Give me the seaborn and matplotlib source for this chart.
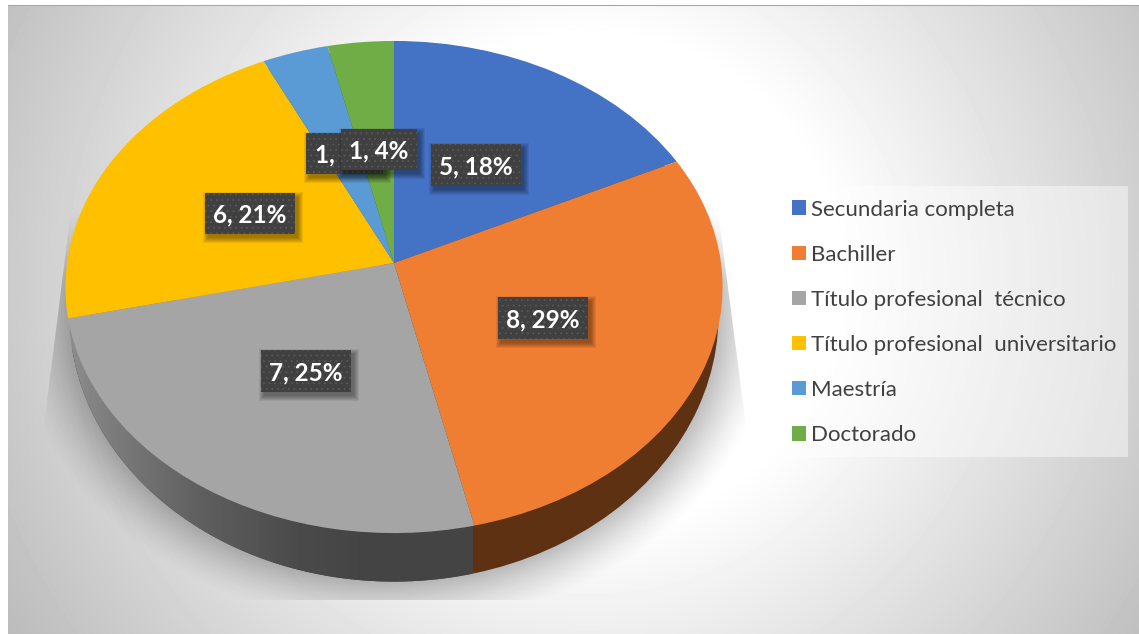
import matplotlib
matplotlib.use("Agg")
import matplotlib.pyplot as plt
import numpy as np
import seaborn as sns
from matplotlib.patches import Circle, Patch, Rectangle
from matplotlib.transforms import Transform

categories = ["Secundaria completa", "Bachiller", "Título profesional  técnico",
              "Título profesional  universitario", "Maestría", "Doctorado"]
values = [5, 8, 7, 6, 1, 1]
face_colors = ["#4472C4", "#F07E32", "#A5A5A5", "#FFC000", "#5B9BD5", "#70AD47"]
wall_colors = ["#264478", "#5E3112", "#444444", "#8F8F8F", "#255E91", "#43682B"]

# label boxes in pixels: left, top, right, bottom (draw order, Maestría under Doctorado)
label_boxes = [(431, 144, 521, 186), (498, 297, 588, 339), (261, 350, 351, 392),
               (205, 193, 295, 234), (306, 133, 383, 174), (341, 129, 417, 170)]

W, H = 1139, 634
TILT = 0.0976


class TiltTransform(Transform):
    # unit circle to the tilted disc, so the centre sits above the middle of the ellipse
    input_dims = output_dims = 2

    def __init__(self, cx, cy, rx, ry):
        super().__init__()
        self.cx, self.cy, self.rx, self.ry = cx, cy, rx, ry

    def transform_non_affine(self, values):
        v = np.asarray(values, dtype=float)
        w = 1 + TILT * v[:, 1]
        return np.column_stack((self.cx + self.rx * v[:, 0] / w, self.cy - self.ry * v[:, 1] / w))


def background(ax):
    yy, xx = np.mgrid[5:H, 8:W]
    d = np.hypot((xx - 590) / 590, (yy - 280) / 580)
    grey = 1 - 0.36 * np.clip(d - 0.42, 0, None)
    ax.imshow(grey, extent=(8, W, H, 5), cmap="gray", vmin=0, vmax=1, aspect="auto", zorder=0)
    ax.plot([8, W], [4.5, 4.5], color="#a8a8a8", lw=0.8, zorder=1)


def pie_shadow(ax):
    yy, xx = np.mgrid[0:600, 0:W]
    e = np.hypot((xx - 394) / 325, (yy - 314) / 267)
    a = 0.25 * np.clip(1 - (e - 1) * 300 / 52, 0, 1) ** 1.4
    left = 70 - (yy - 210) * 28 / 223
    right = 718 + (yy - 210) * 29 / 223
    a = a * np.clip(xx - left, 0, 1) * np.clip(right - xx, 0, 1) * np.clip((yy - 210) / 70, 0, 1)
    rgba = np.zeros((600, W, 4))
    rgba[..., 3] = a
    ax.imshow(rgba, extent=(0, W, 600, 0), aspect="auto", zorder=2)


def draw_pie(ax):
    bottom = TiltTransform(394, 288.5, 323, 264.5)
    walls, _ = ax.pie(values, colors=wall_colors, startangle=90, counterclock=False)
    for w in walls:
        w.set_transform(bottom + ax.transData)
        w.set_zorder(3)
        w.set_linewidth(0)
    # grey side gets darker towards the front, stops at the orange side
    xs = np.array([70, 100, 200, 300, 366, 473])
    greys = np.array([0x8c, 0x80, 0x5f, 0x4a, 0x44, 0x44]) / 255
    strip = np.interp(np.arange(70, 473), xs, greys)[None, :]
    im = ax.imshow(strip, extent=(70, 473, 590, 300), cmap="gray", vmin=0, vmax=1, aspect="auto", zorder=3.5)
    im.set_clip_path(Circle((0, 0), 1, transform=bottom + ax.transData))

    faces, _ = ax.pie(values, colors=face_colors, startangle=90, counterclock=False)
    for w in faces:
        w.set_transform(TiltTransform(394, 263, 327, 243.7) + ax.transData)
        w.set_zorder(4)
        w.set_linewidth(0)


def draw_labels(ax):
    total = sum(values)
    for i, (box, v) in enumerate(zip(label_boxes, values)):
        x0, y0, x1, y1 = box
        z = 5 + i
        for grow in [5, 4, 3, 2, 1, 0]:
            ax.add_patch(Rectangle((x0 + 3 - grow, y0 + 4 - grow), x1 - x0 + 2 * grow, y1 - y0 + 2 * grow,
                                   facecolor="black", edgecolor="none", alpha=0.07, zorder=z))
        ax.add_patch(Rectangle((x0, y0), x1 - x0, y1 - y0, facecolor="#404040", edgecolor="#404040", lw=0, zorder=z))
        ax.add_patch(Rectangle((x0, y0), x1 - x0, y1 - y0, facecolor="none", edgecolor="#585858", lw=0,
                               hatch="...", zorder=z))
        ax.text((x0 + x1) / 2, (y0 + y1) / 2 + 1.5, f"{v}, {100 * v / total:.0f}%", color="white", fontsize=17.5,
                fontweight="bold", ha="center", va="center", zorder=z)


def draw_legend(ax):
    ax.add_patch(Rectangle((780, 186), 348, 271, facecolor="white", edgecolor="none", alpha=0.45, zorder=2))
    handles = [Patch(facecolor=c, edgecolor="none") for c in face_colors]
    leg = ax.legend(handles, categories, loc="upper left", bbox_to_anchor=(792, 199.5), bbox_transform=ax.transData,
                    frameon=False, fontsize=16, labelcolor="#404040", borderaxespad=0, borderpad=0,
                    handlelength=0.63, handleheight=0.63, handletextpad=0.24, labelspacing=1.13)
    leg.set_zorder(12)


sns.set_theme(style="white")
plt.rcParams["font.family"] = ["Lato", "DejaVu Sans"]
plt.rcParams["hatch.linewidth"] = 0.6

fig = plt.figure(figsize=(W / 100, H / 100), dpi=100, facecolor="white")
ax = fig.add_axes([0, 0, 1, 1])
background(ax)
pie_shadow(ax)
draw_pie(ax)
ax.set_aspect("auto")
ax.set_xlim(0, W)
ax.set_ylim(H, 0)
ax.axis("off")
draw_labels(ax)
draw_legend(ax)
fig.savefig("out.png", dpi=100, facecolor="white")
